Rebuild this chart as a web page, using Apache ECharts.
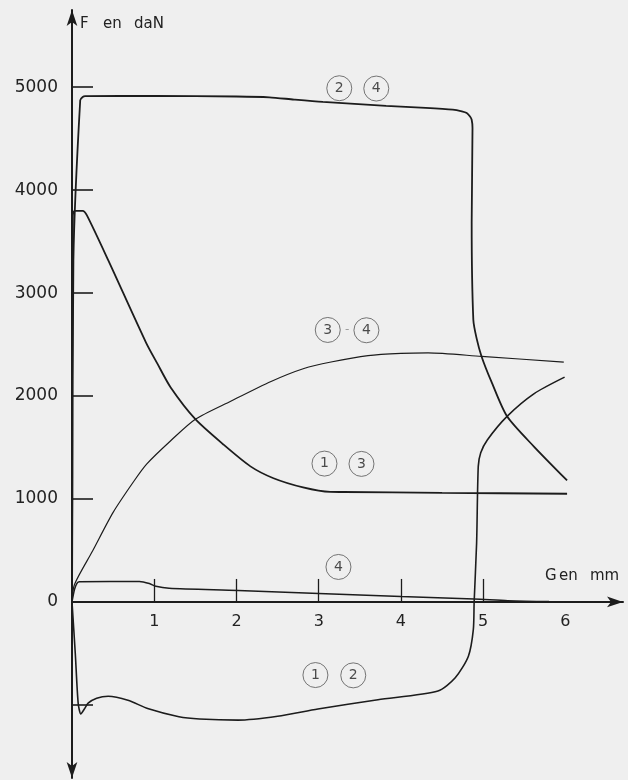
<!DOCTYPE html>
<html>
<head>
<meta charset="utf-8">
<script src="https://cdn.jsdelivr.net/npm/echarts@6/dist/echarts.min.js"></script>
<style>
    html, body { margin: 0; padding: 0; background: #efefef; }
    #chart { width: 628px; height: 780px; }
</style>
</head>
<body>
<div id="chart"></div>
<script>
// ticks and labels
const xLabelValues = [1, 2, 3, 4, 5, 6];
const xTickValues = [1, 2, 3, 4, 5];
const yLabelValues = [0, 1000, 2000, 3000, 4000, 5000];
const yTickValues = [-1000, 1000, 2000, 3000, 4000, 5000];

// curves, [G en mm, F en daN]
const curve24 = [[0, 0], [0.005, 1000], [0.017, 3320], [0.10, 4874], [0.13, 4905], [0.16, 4913], [1.0, 4915],
    [2.0, 4910], [2.4, 4902], [2.7, 4880], [3.05, 4857], [3.82, 4819], [4.3, 4800], [4.63, 4782], [4.74, 4765],
    [4.80, 4749], [4.84, 4715], [4.86, 4684], [4.87, 4604], [4.86, 3681], [4.88, 2742], [4.92, 2560], [4.98, 2385],
    [5.1, 2140], [5.29, 1803], [5.62, 1507], [6.02, 1180]];
const curve13 = [[0, 0], [0.01, 3750], [0.03, 3799], [0.13, 3799], [0.18, 3757], [0.44, 3320], [0.90, 2519],
    [1.04, 2312], [1.2, 2083], [1.5, 1775], [1.84, 1530], [2.17, 1317], [2.45, 1202], [2.81, 1113], [3.14, 1069],
    [3.3, 1068], [4.5, 1060], [6.02, 1051]];
const curve34 = [[0, 0], [0.03, 170], [0.25, 495], [0.5, 870], [0.75, 1170], [0.91, 1341], [1.2, 1566],
    [1.5, 1775], [1.93, 1950], [2.42, 2142], [2.82, 2268], [3.15, 2331], [3.6, 2393], [4.0, 2415], [4.33, 2420],
    [4.98, 2385], [5.98, 2330]];
const curve4 = [[0, 0], [0.03, 120], [0.06, 180], [0.09, 197], [0.82, 199], [0.94, 179], [1.02, 152], [1.18, 133],
    [2.02, 112], [3.0, 82], [4.0, 53], [4.89, 29], [5.3, 12], [5.8, 4], [6.5, 0]];
const curve12 = [[0, 0], [0.04, -500], [0.075, -983], [0.107, -1087], [0.15, -1040], [0.196, -983], [0.3, -935],
    [0.44, -916], [0.68, -955], [0.93, -1038], [1.3, -1115], [1.55, -1137], [2.02, -1148], [2.5, -1110],
    [2.99, -1040], [3.72, -950], [4.45, -865], [4.66, -737], [4.82, -527], [4.88, -269], [4.89, 0],
    [4.92, 573], [4.94, 1317], [4.97, 1450], [5.05, 1574], [5.29, 1803], [5.62, 2024], [5.99, 2184]];

// circled curve numbers
const markers = [[3.25, 4990, '2'], [3.70, 4987, '4'], [3.11, 2642, '3'], [3.58, 2639, '4'],
    [3.07, 1344, '1'], [3.52, 1341, '3'], [3.24, 340, '4'], [2.96, -710, '1'], [3.42, -713, '2']];
const dashes = [[3.345, 2640, '-']];

const ink = '#1c1c1c';
const yMin = -1710;
const yMax = 5750;
const gridHeight = 768;
const chart = echarts.init(document.getElementById('chart'));

function createGrid() {
    return {left: 72, top: 10, width: 551, height: gridHeight, containLabel: false, outerBoundsMode: 'none'};
}

function createXAxis() {
    // x axis drawn on the F = 0 line
    return {
        type: 'value',
        min: 0,
        max: 6.7,
        position: 'bottom',
        offset: -(0 - yMin) / (yMax - yMin) * gridHeight,
        axisLine: {
            onZero: false,
            lineStyle: {color: ink, width: 2},
            symbol: ['none', 'arrow'],
            symbolSize: [8, 16]
        },
        axisTick: {
            inside: true,
            length: 23,
            customValues: xTickValues,
            lineStyle: {color: ink, width: 1.3}
        },
        axisLabel: {
            customValues: xLabelValues,
            margin: 12,
            color: '#222',
            fontSize: 16,
            fontFamily: 'DejaVu Sans'
        },
        splitLine: {show: false}
    };
}

function createYAxis() {
    return {
        type: 'value',
        min: yMin,
        max: yMax,
        axisLine: {
            onZero: false,
            lineStyle: {color: ink, width: 2},
            symbol: ['arrow', 'arrow'],
            symbolSize: [8, 16]
        },
        axisTick: {
            inside: true,
            length: 21,
            customValues: yTickValues,
            lineStyle: {color: ink, width: 1.6}
        },
        axisLabel: {
            customValues: yLabelValues,
            formatter: v => String(v),
            margin: 14,
            color: '#222',
            fontSize: 17,
            fontFamily: 'DejaVu Sans'
        },
        splitLine: {show: false}
    };
}

function curve(name, data, width) {
    return {
        name: name,
        type: 'line',
        data: data,
        showSymbol: false,
        smooth: 0.25,
        lineStyle: {color: ink, width: width},
        z: 3
    };
}

function createSeries() {
    return [
        curve('2-4', curve24, 1.8),
        curve('1-3', curve13, 1.8),
        curve('3-4', curve34, 1.2),
        curve('4', curve4, 1.5),
        curve('1-2', curve12, 1.6),
        {
            name: 'markers',
            type: 'scatter',
            data: markers,
            symbol: 'circle',
            symbolSize: 25,
            itemStyle: {color: 'rgba(0,0,0,0)', borderColor: '#555', borderWidth: 1},
            label: {
                show: true,
                position: 'inside',
                formatter: p => p.value[2],
                color: '#222',
                fontSize: 14,
                fontFamily: 'DejaVu Sans'
            },
            z: 4
        },
        {
            name: 'dash',
            type: 'scatter',
            data: dashes,
            symbol: 'circle',
            symbolSize: 2,
            itemStyle: {color: 'rgba(0,0,0,0)'},
            label: {
                show: true,
                position: 'inside',
                formatter: p => p.value[2],
                color: '#888',
                fontSize: 12,
                fontFamily: 'DejaVu Sans'
            },
            z: 4
        }
    ];
}

function axisTitle(left, top, text) {
    return {
        type: 'text',
        left: left,
        top: top,
        style: {text: text, fill: '#222', fontSize: 15, fontFamily: 'DejaVu Sans'}
    };
}

const options = {
    animation: false,
    backgroundColor: '#efefef',
    grid: createGrid(),
    xAxis: createXAxis(),
    yAxis: createYAxis(),
    series: createSeries(),
    graphic: [
        axisTitle(80, 17, 'F'),
        axisTitle(103, 17, 'en'),
        axisTitle(134, 17, 'daN'),
        axisTitle(545, 569, 'G'),
        axisTitle(559, 569, 'en'),
        axisTitle(590, 569, 'mm')
    ]
};
chart.setOption(options);
</script>
</body>
</html>
